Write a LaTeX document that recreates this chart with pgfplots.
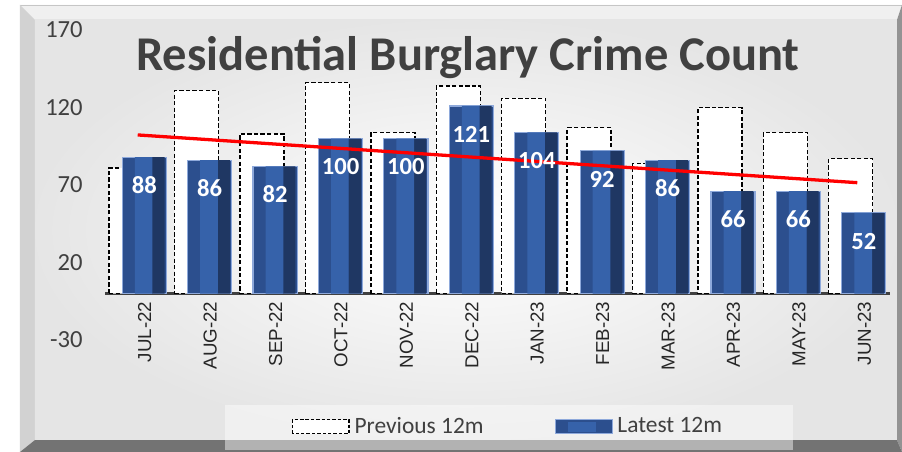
\documentclass[border=0pt]{standalone}
\usepackage{fontspec}
\setmainfont{Carlito}
\newfontfamily\arialfont{Liberation Sans}
\usepackage{pgfplots}
\pgfplotsset{compat=1.18}

\definecolor{txt}{HTML}{404040}
\definecolor{bluemid}{HTML}{3662AA}
\definecolor{blueleft}{HTML}{2C4F8E}
\definecolor{bluedark}{HTML}{1F3763}
\definecolor{blueedge}{HTML}{8EA9DB}

\begin{document}
\begin{tikzpicture}
% frame and background, in pixels from the top left
\begin{scope}[shift={(0,6.78cm)},x=0.015cm,y=-0.015cm]
\fill[white] (0,0) rectangle (902,452);
\fill[gray!12] (20,5) -- (902,5) -- (897,20) -- (35,20) -- cycle;
\draw[gray!45] (20,5) -- (902,5);
\fill[gray!35] (20,5) -- (35,20) -- (35,440) -- (20,452) -- cycle;
\fill[gray!85] (902,5) -- (902,452) -- (897,440) -- (897,20) -- cycle;
\fill[black!55] (20,452) -- (35,440) -- (897,440) -- (902,452) -- cycle;
\shade[inner color=white, outer color=gray!20] (35,20) rectangle (897,440);
\end{scope}

\begin{axis}[
  at={(1.575cm,1.68cm)}, anchor=south west,
  scale only axis, width=11.775cm, height=4.65cm,
  xmin=-0.5, xmax=11.5, ymin=-30, ymax=170,
  /pgf/number format/assume math mode=true,
  axis x line=middle, axis y line=left,
  x axis line style={-, line width=1.7pt, color=txt},
  y axis line style={draw=none},
  ytick={-30,20,70,120,170},
  xtick={0,...,11},
  xticklabels={JUL-22,AUG-22,SEP-22,OCT-22,NOV-22,DEC-22,JAN-23,FEB-23,MAR-23,APR-23,MAY-23,JUN-23},
  major tick length=0pt,
  tick style={draw=none},
  xticklabel style={rotate=90, anchor=east, font=\arialfont\fontsize{8}{9}\selectfont, text=black!85, yshift=-3pt},
  yticklabel style={font=\fontsize{10.5}{12}\selectfont, text=txt, xshift=-6pt},
  ybar,
  clip=false,
  legend columns=2,
  legend style={at={(0.515,-0.281)}, anchor=center, draw=none, fill=white,
    fill opacity=0.45, text opacity=1, inner xsep=1.0cm, inner ysep=0.12cm,
    font=\fontsize{10}{12}\selectfont, text=txt,
    /tikz/every even column/.append style={column sep=1.0cm}},
]
\addplot[bar width=0.673, bar shift=-0.1, fill=white, draw=black, line width=0.6pt,
  dash pattern=on 1.8pt off 1pt,
  legend image code/.code={\draw[black, fill=white, fill opacity=1, draw opacity=1, line width=0.6pt, dash pattern=on 1.5pt off 0.8pt] (0cm,-0.1cm) rectangle (0.85cm,0.11cm);}]
  coordinates {(0,81) (1,131) (2,103) (3,136) (4,104) (5,134) (6,126) (7,107) (8,84) (9,120) (10,104) (11,87)};
\addlegendentry{Previous 12m}
\addplot[bar width=0.673, bar shift=0.1, fill=blueleft, draw=blueedge, line width=0.5pt,
  legend image code/.code={\draw[fill=blueleft, draw=blueedge, fill opacity=1, draw opacity=1] (0cm,-0.1cm) rectangle (0.85cm,0.11cm);
    \fill[bluemid, fill opacity=1] (0.2cm,-0.06cm) rectangle (0.6cm,0.07cm);}]
  coordinates {(0,88) (1,86) (2,82) (3,100) (4,100) (5,121) (6,104) (7,92) (8,86) (9,66) (10,66) (11,52)};
\addlegendentry{Latest 12m}
% darker right side and lighter middle stripe of the same bars
\addplot[forget plot, bar width=0.19, bar shift=0.315, fill=bluedark, draw=none]
  coordinates {(0,88) (1,86) (2,82) (3,100) (4,100) (5,121) (6,104) (7,92) (8,86) (9,66) (10,66) (11,52)};
\addplot[forget plot, bar width=0.27, bar shift=0.09, fill=bluemid, draw=none,
  nodes near coords,
  every node near coord/.append style={font=\bfseries\fontsize{10.5}{12}\selectfont, text=white, anchor=center, yshift=-12pt, xshift=0.01cm, inner sep=0pt}]
  coordinates {(0,88) (1,86) (2,82) (3,100) (4,100) (5,121) (6,104) (7,92) (8,86) (9,66) (10,66) (11,52)};
% linear trend of the latest 12 months
\addplot[sharp plot, red, line width=1.4pt, no marks, forget plot]
  coordinates {(0,102.3) (11,71.5)};
\end{axis}

\node[font=\bfseries\fontsize{20.7}{24}\selectfont, text=txt] at (7.02cm,5.91cm) {Residential Burglary Crime Count};

\pgfresetboundingbox
\useasboundingbox (0,0) rectangle (13.53cm,6.78cm);
\end{tikzpicture}
\end{document}
